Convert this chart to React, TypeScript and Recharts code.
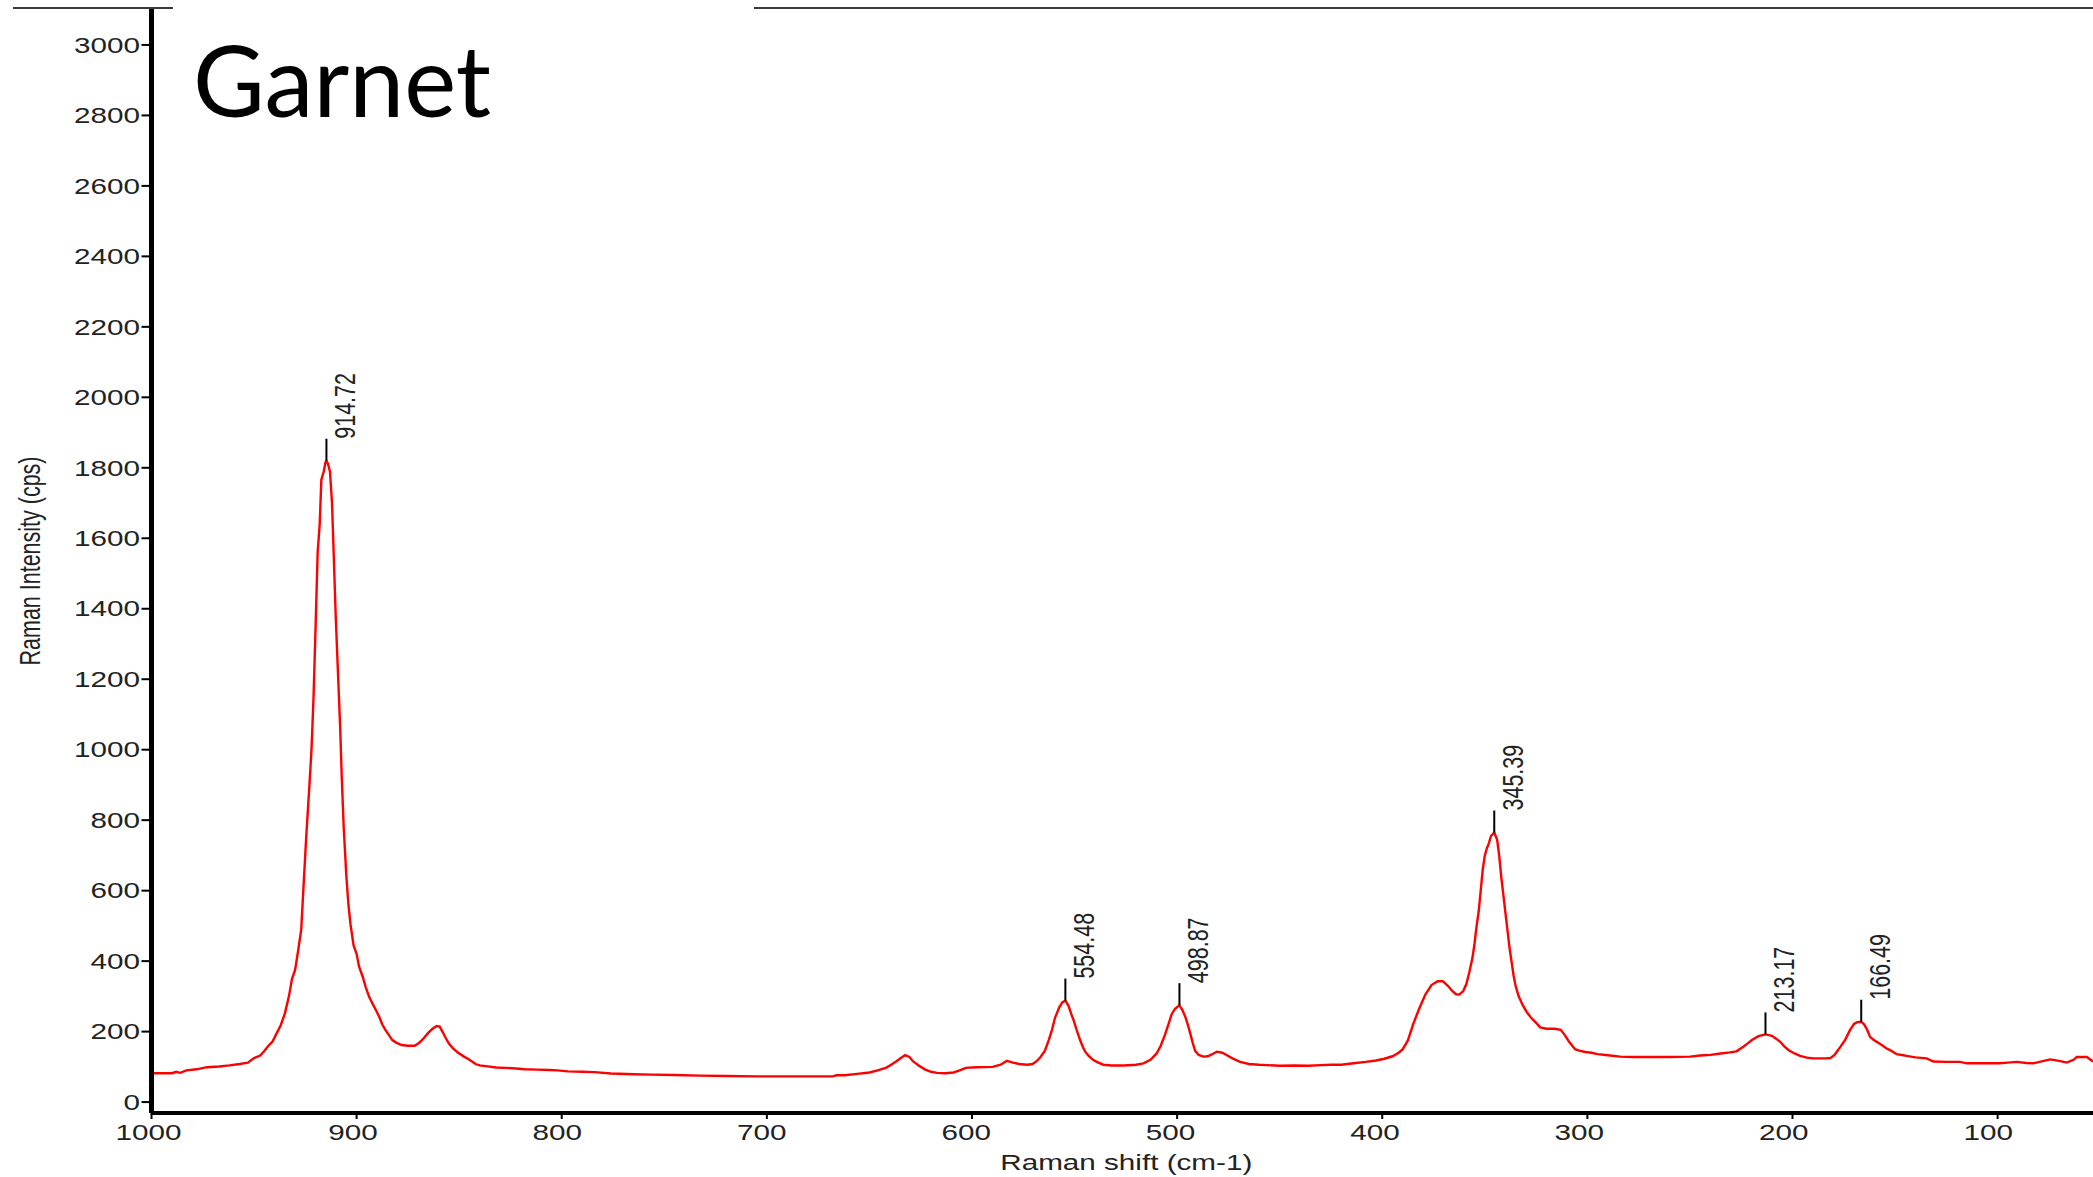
import React from 'react';
import { ComposedChart, Line, Scatter, XAxis, YAxis } from 'recharts';

// ---- Spectrum (Raman shift cm-1 -> intensity cps) ----
const shifts = [
  1000, 995, 990, 988, 986, 983, 978, 973, 967, 962,
  957, 953, 950, 947, 945, 943, 941, 939, 937, 935,
  933, 931.5, 930, 928.5, 927, 926, 924.5, 923, 922, 921,
  920, 919, 918, 917.2, 916, 915.2, 914.72, 914, 913, 912,
  911.2, 910.2, 909.2, 908, 907.3, 906.3, 905, 904, 903, 901.5,
  900, 898.8, 897, 895.6, 894, 892.3, 890.5, 889, 887.5, 885.9,
  884, 882.6, 880.5, 878, 875, 871.7, 869.5, 867.3, 865, 863,
  861, 859.5, 858, 856.5, 855, 853, 850.5, 847.6, 845, 842,
  840, 837, 832, 824, 818, 812, 806, 802, 797, 790,
  784, 776, 765, 756, 745, 733, 720, 705, 690, 675,
  668, 666, 662, 656, 650, 646, 642, 640, 637, 634.5,
  632.6, 630.5, 628.8, 626, 623, 620, 617, 613, 609, 606,
  603, 598, 590, 586, 583, 580, 577, 573, 570.5, 568.5,
  566.6, 564.5, 562.6, 561, 559.5, 557.5, 556, 554.48, 553, 551.5,
  550.5, 549, 547.3, 546, 544.8, 543, 541, 539.2, 536, 532,
  526, 520, 516.4, 513, 510, 508, 506, 504, 502.6, 501,
  498.87, 497.5, 496, 494.8, 493.6, 492.4, 491.2, 489.5, 487.2, 485,
  482.5, 480.6, 478, 475.7, 473, 469.3, 465, 460, 456, 450,
  443, 436, 430, 425, 420, 414, 408, 403, 399, 395,
  392, 390, 387.5, 385, 382, 379, 376, 373, 370.5, 368,
  366, 364, 362.5, 360.5, 359, 357.5, 356, 355, 354, 353,
  352, 351, 350, 349, 348, 347, 345.39, 344, 343, 342,
  341, 340, 339, 338, 337, 336, 335, 333.5, 331.5, 329.5,
  327.5, 325, 323, 320, 316, 313, 311, 309, 306, 304,
  301, 298, 295, 290, 284, 278, 270, 260, 250, 245,
  240, 235, 230.5, 227.3, 224, 221.5, 219.8, 216.6, 213.17, 210,
  208, 206, 204, 202, 199, 196.3, 193, 190, 184, 181.5,
  179.5, 178.4, 176.5, 174.4, 172, 170, 168.5, 166.49, 165, 163.5,
  162.2, 160.5, 159, 156.5, 154.1, 152, 149.2, 146, 144.4, 140,
  134.6, 131.3, 125, 118.3, 115, 108, 99, 95, 90.7, 86,
  82.7, 78, 74.4, 70, 66.3, 63, 61.4, 56.5, 53.5,
];

const intensities = [
  82, 82, 82, 86, 83, 90, 93, 99, 101, 104,
  108, 112, 125, 132, 145, 160, 172, 195, 218, 251,
  300, 350, 375, 430, 490, 600, 760, 900, 1000, 1150,
  1350, 1560, 1640, 1766, 1790, 1815, 1820, 1812, 1790, 1700,
  1560, 1380, 1234, 1060, 930, 780, 640, 560, 505, 445,
  420, 384, 355, 327, 300, 280, 260, 242, 220, 204,
  188, 176, 168, 162, 160, 160, 168, 181, 197, 208,
  216, 214, 198, 181, 166, 152, 140, 129, 120, 108,
  104, 102, 98, 96, 93, 92, 91, 90, 87, 86,
  85, 81, 79, 78, 77, 75, 74, 73, 73, 73,
  73, 76, 76, 80, 84, 90, 97, 104, 115, 126,
  133, 128, 116, 104, 93, 86, 83, 82, 84, 90,
  97, 99, 100, 106, 117, 112, 108, 106, 108, 116,
  128, 145, 176, 205, 240, 268, 283, 288, 274, 248,
  233, 205, 176, 157, 143, 130, 120, 114, 106, 104,
  104, 106, 110, 120, 138, 160, 190, 225, 250, 265,
  275, 262, 242, 220, 195, 168, 145, 134, 129, 130,
  137, 143, 140, 133, 124, 114, 108, 106, 105, 103,
  104, 103, 105, 106, 106, 110, 114, 118, 123, 130,
  140, 150, 175, 220, 265, 305, 332, 343, 343, 330,
  316, 306, 305, 315, 335, 370, 410, 450, 500, 540,
  600, 660, 700, 720, 735, 755, 765, 745, 700, 640,
  590, 540, 490, 440, 400, 360, 330, 300, 275, 255,
  240, 225, 212, 208, 208, 205, 190, 172, 150, 146,
  142, 140, 136, 133, 129, 128, 128, 128, 129, 132,
  134, 138, 141, 144, 157, 168, 176, 187, 192, 188,
  180, 171, 158, 148, 138, 131, 126, 124, 124, 125,
  134, 143, 158, 176, 204, 222, 227, 228, 220, 204,
  185, 177, 171, 162, 152, 146, 136, 133, 131, 127,
  124, 115, 114, 114, 110, 110, 110, 112, 114, 111,
  110, 116, 121, 117, 112, 120, 128, 128, 115,
];

// ---- Peak markers ----
const peakShifts = [914.72, 554.48, 498.87, 345.39, 213.17, 166.49];
const peakIntensities = [1820, 288, 275, 765, 192, 228];
const peakLabels = ['914.72', '554.48', '498.87', '345.39', '213.17', '166.49'];

// ---- Axes ----
const xTicks = [1000, 900, 800, 700, 600, 500, 400, 300, 200, 100];
const yTicks = [0, 200, 400, 600, 800, 1000, 1200, 1400, 1600, 1800, 2000, 2200, 2400, 2600, 2800, 3000];
const xDomain = [53.5, 1000];
const yDomain = [-31, 3102];

const titleText = 'Garnet';
const xAxisTitle = 'Raman shift (cm-1)';
const yAxisTitle = 'Raman Intensity (cps)';

const curveData = shifts.map((s, i) => ({ x: s, y: intensities[i] }));
const peakData = peakShifts.map((s, i) => ({ x: s, y: peakIntensities[i], label: peakLabels[i] }));

const FONT = '"Liberation Sans", Arial, Helvetica, sans-serif';
const STRETCH = 1.38;
const FS = 21.5;
const TXT = '#222';

const XTick = (props: any) => {
  const { x, y, payload } = props;
  // labels in the source sit slightly left of their tick marks
  const shift = -3 - (x - 151.5) * 0.0035;
  return (
    <g transform={`translate(${x + shift},${y}) scale(${STRETCH},1)`}>
      <text x={0} y={0} dy="0.71em" textAnchor="middle" fontFamily={FONT} fontSize={FS} fill={TXT}>
        {payload.value}
      </text>
    </g>
  );
};

const YTick = (props: any) => {
  const { x, y, payload } = props;
  return (
    <g transform={`translate(${x},${y}) scale(${STRETCH},1)`}>
      <text x={0} y={0} dy="0.36em" textAnchor="end" fontFamily={FONT} fontSize={FS} fill={TXT}>
        {payload.value}
      </text>
    </g>
  );
};

const XTitle = (props: any) => {
  const vb = props.viewBox || {};
  const cx = vb.x + vb.width / 2 + 4;
  const by = vb.y + 57;
  return (
    <g transform={`translate(${cx},${by}) scale(${STRETCH},1)`}>
      <text x={0} y={0} textAnchor="middle" fontFamily={FONT} fontSize={FS} fill={TXT}>
        {xAxisTitle}
      </text>
    </g>
  );
};

const YTitle = (props: any) => {
  const vb = props.viewBox || {};
  const cy = vb.y + vb.height / 2;
  const bx = vb.x + 39.5;
  return (
    <g transform={`translate(${bx},${cy}) scale(${STRETCH},1) rotate(-90)`}>
      <text x={0} y={0} textAnchor="middle" fontFamily={FONT} fontSize={FS} fill={TXT}>
        {yAxisTitle}
      </text>
    </g>
  );
};

const PeakMarker = (props: any) => {
  const { cx, cy, payload } = props;
  if (cx == null || cy == null) return null;
  const stem = 22;
  return (
    <g>
      <line x1={cx} y1={cy} x2={cx} y2={cy - stem} stroke="#000" strokeWidth={2} />
      <g transform={`translate(${cx + 28.5},${cy - stem}) scale(${STRETCH},1) rotate(-90)`}>
        <text x={0} y={0} textAnchor="start" fontFamily={FONT} fontSize={FS} fill={TXT}>
          {payload.label}
        </text>
      </g>
    </g>
  );
};

export default function App() {
  return (
    <div style={{ position: 'absolute', left: 0, top: 0, width: 2093, height: 1177, background: '#fff', overflow: 'hidden' }}>
      <ComposedChart width={2093} height={1177} margin={{ top: 9, right: 0, bottom: 0, left: 0 }}>
        <XAxis
          dataKey="x"
          type="number"
          domain={xDomain}
          reversed
          allowDataOverflow
          ticks={xTicks}
          interval={0}
          height={64}
          tickSize={6}
          tickMargin={6}
          tick={<XTick />}
          tickLine={{ stroke: '#000', strokeWidth: 2 }}
          axisLine={{ stroke: '#000', strokeWidth: 4 }}
          label={<XTitle />}
        />
        <YAxis
          dataKey="y"
          type="number"
          domain={yDomain}
          allowDataOverflow
          ticks={yTicks}
          interval={0}
          width={151.5}
          tickSize={10}
          tickMargin={1.5}
          tick={<YTick />}
          tickLine={{ stroke: '#000', strokeWidth: 2 }}
          axisLine={{ stroke: '#000', strokeWidth: 5 }}
          label={<YTitle />}
        />
        <Line
          data={curveData}
          dataKey="y"
          type="linear"
          stroke="#ff0000"
          strokeWidth={2.4}
          dot={false}
          activeDot={false}
          isAnimationActive={false}
        />
        <Scatter data={peakData} dataKey="y" shape={<PeakMarker />} isAnimationActive={false} />
      </ComposedChart>
      <svg
        width={2093}
        height={1177}
        style={{ position: 'absolute', left: 0, top: 0, pointerEvents: 'none' }}
      >
        <line x1={13} y1={8} x2={173} y2={8} stroke="#3a3a3a" strokeWidth={2} />
        <line x1={754} y1={8} x2={2093} y2={8} stroke="#3a3a3a" strokeWidth={2} />
        <text
          x={193}
          y={117}
          fontFamily="Lato, 'Open Sans', sans-serif"
          fontSize={98}
          fill="#000"
          textLength={298}
          lengthAdjust="spacingAndGlyphs"
        >
          {titleText}
        </text>
      </svg>
    </div>
  );
}
